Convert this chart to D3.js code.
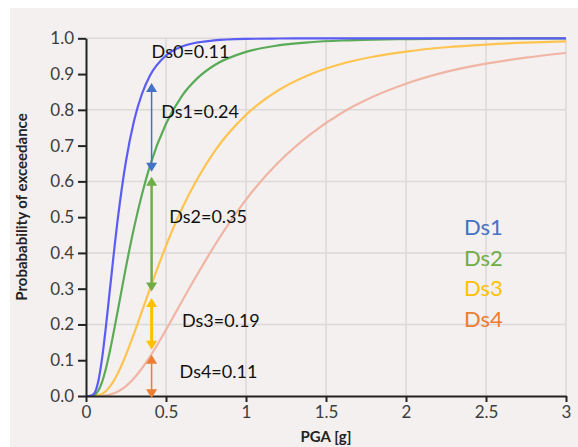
<!DOCTYPE html>
<html><head><meta charset="utf-8">
<script src="https://cdn.jsdelivr.net/npm/d3@7"></script>
<style>html,body{margin:0;padding:0;background:#fff;}svg{display:block;}</style>
</head><body>
<svg id="c" width="578" height="447"></svg>
<script>
// PGA sample points [g]
const pga = [0, 0.025, 0.05, 0.075, 0.1, 0.125, 0.15, 0.2, 0.25, 0.3, 0.35, 0.4, 0.5, 0.6, 0.7, 0.8, 1.0, 1.2, 1.4, 1.6, 1.8, 2.0, 2.25, 2.5, 2.75, 3.0];
// Probability of exceedance
const ds1 = [0, 0.0001, 0.006, 0.0375, 0.104, 0.196, 0.300, 0.5, 0.657, 0.769, 0.845, 0.896, 0.952, 0.977, 0.9886, 0.9941, 0.9983, 0.9994, 0.9998, 0.9999, 1, 1, 1, 1, 1, 1];
const ds2 = [0, 0.00005, 0.0023, 0.0136, 0.0387, 0.0777, 0.127, 0.242, 0.361, 0.470, 0.564, 0.644, 0.761, 0.839, 0.890, 0.924, 0.962, 0.980, 0.989, 0.9938, 0.9963, 0.9977, 0.9987, 0.9993, 0.9996, 0.9997];
const ds3 = [0, 0, 0.0002, 0.0017, 0.0059, 0.0141, 0.0267, 0.0644, 0.1154, 0.1744, 0.237, 0.300, 0.420, 0.524, 0.610, 0.682, 0.786, 0.854, 0.899, 0.929, 0.949, 0.963, 0.975, 0.9825, 0.9877, 0.9912];
const ds4 = [0, 0, 0, 0.0001, 0.0006, 0.0017, 0.0038, 0.0124, 0.0277, 0.0497, 0.0775, 0.110, 0.185, 0.265, 0.343, 0.418, 0.549, 0.652, 0.731, 0.792, 0.838, 0.873, 0.906, 0.929, 0.946, 0.959];

const seriesNames = ["Ds1", "Ds2", "Ds3", "Ds4"];
const lineColors = ["#5b5cf3", "#5aab57", "#ffc450", "#f0b5a4"];
const legendColors = ["#4472c4", "#70ad47", "#ffc000", "#ed7d31"];

// arrows at PGA = 0.41 : [top, bottom]
const arrowX = 0.41;
const arrowTop = [0.875, 0.613, 0.274, 0.115];
const arrowBottom = [0.627, 0.292, 0.129, -0.006];
const arrowColors = ["#4472c4", "#70ad47", "#ffc000", "#ed7d31"];
const arrowWidths = [1.5, 2.5, 3, 1.5];

// annotation labels
const annLabels = ["Ds0=0.11", "Ds1=0.24", "Ds2=0.35", "Ds3=0.19", "Ds4=0.11"];
const annX = [0.41, 0.47, 0.52, 0.60, 0.585];
const annY = [0.944, 0.776, 0.485, 0.194, 0.051];

const xTicks = [0, 0.5, 1, 1.5, 2, 2.5, 3];
const yTicks = [0, 0.1, 0.2, 0.3, 0.4, 0.5, 0.6, 0.7, 0.8, 0.9, 1.0];
const yGrid = [0.2, 0.4, 0.6, 0.8, 1.0];
const xGrid = [0.5, 1, 1.5, 2, 2.5, 3];

const svg = d3.select("#c");
svg.append("rect").attr("x", 10).attr("y", 8).attr("width", 568).attr("height", 439).attr("fill", "#f3f0ef");

const x = d3.scaleLinear().domain([0, 3]).range([86, 566]);
const y = d3.scaleLinear().domain([0, 1]).range([396, 38.3]);

// grid
svg.append("g").selectAll("line").data(yGrid).join("line")
  .attr("x1", x(0)).attr("x2", x(3)).attr("y1", d => y(d)).attr("y2", d => y(d))
  .attr("stroke", "#dcd9d8").attr("stroke-width", 1.5);
svg.append("g").selectAll("line").data(xGrid).join("line")
  .attr("x1", d => x(d)).attr("x2", d => x(d)).attr("y1", y(0)).attr("y2", y(1))
  .attr("stroke", "#dcd9d8").attr("stroke-width", 1.5);

// curves
const allSeries = [ds1, ds2, ds3, ds4];
const line = d3.line().x(d => x(d[0])).y(d => y(d[1])).curve(d3.curveMonotoneX);
// draw in reverse so blue on top
[3, 2, 1, 0].forEach(i => {
  svg.append("path").datum(pga.map((p, j) => [p, allSeries[i][j]]))
    .attr("d", line).attr("fill", "none")
    .attr("stroke", lineColors[i]).attr("stroke-width", 2.2);
});

// axes
const yAxis = d3.axisLeft(y).tickValues(yTicks).tickFormat(d3.format(".1f")).tickSize(8).tickSizeOuter(0).tickPadding(4);
const gy = svg.append("g").attr("transform", "translate(86,0)").call(yAxis);
const xAxis = d3.axisBottom(x).tickValues(xTicks).tickFormat(d => d === 0 ? "0" : String(d)).tickSize(6).tickSizeOuter(0).tickPadding(4);
const gx = svg.append("g").attr("transform", "translate(0,396)").call(xAxis);
[gx, gy].forEach(g => {
  g.select(".domain").attr("stroke", "#222").attr("stroke-width", 2);
  g.selectAll(".tick line").attr("stroke", "#222").attr("stroke-width", 2);
  g.selectAll(".tick text").attr("fill", "#3d3d3d").style("font-family", "Lato").style("font-size", "17px");
});

// arrows
const defs = svg.append("defs");
arrowColors.forEach((c, i) => {
  const tx = x(arrowX), t = y(arrowTop[i]), b = y(arrowBottom[i]);
  const hw = 5.5, hh = 9;
  const g = svg.append("g");
  g.append("line").attr("x1", tx).attr("x2", tx).attr("y1", t + hh - 1).attr("y2", b - hh + 1)
    .attr("stroke", c).attr("stroke-width", arrowWidths[i]);
  g.append("path").attr("d", `M${tx},${t} L${tx - hw},${t + hh} L${tx + hw},${t + hh} Z`).attr("fill", c);
  g.append("path").attr("d", `M${tx},${b} L${tx - hw},${b - hh} L${tx + hw},${b - hh} Z`).attr("fill", c);
});

// annotations
svg.append("g").selectAll("text").data(annLabels).join("text")
  .attr("x", (d, i) => x(annX[i])).attr("y", (d, i) => y(annY[i]))
  .text(d => d).attr("fill", "#111").style("font-family", "Lato").style("font-size", "18px");

// legend
svg.append("g").selectAll("text").data(seriesNames).join("text")
  .attr("x", 464).attr("y", (d, i) => 235 + i * 30.5)
  .text(d => d).attr("fill", (d, i) => legendColors[i])
  .style("font-family", "Lato").style("font-size", "22px");

// titles
svg.append("text").attr("x", x(1.5)).attr("y", 442).attr("text-anchor", "middle")
  .text("PGA [g]").attr("fill", "#222").style("font-family", "Lato").style("font-weight", "bold").style("font-size", "15px");
svg.append("text").attr("transform", "translate(26.5,207) rotate(-90)").attr("text-anchor", "middle")
  .text("Probabability of exceedance").attr("fill", "#222").style("font-family", "Lato").style("font-weight", "bold").style("font-size", "15px");
</script>
</body></html>
